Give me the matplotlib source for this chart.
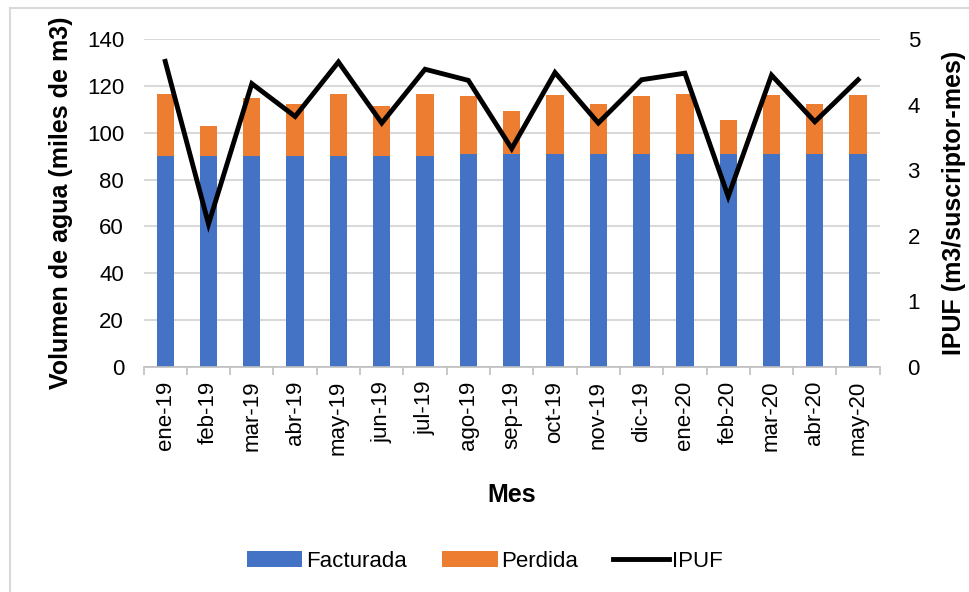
import numpy as np
import matplotlib.pyplot as plt
from matplotlib.lines import Line2D

plt.rcParams['font.family'] = ['Liberation Sans', 'DejaVu Sans']

meses = ['ene-19', 'feb-19', 'mar-19', 'abr-19', 'may-19', 'jun-19', 'jul-19',
         'ago-19', 'sep-19', 'oct-19', 'nov-19', 'dic-19', 'ene-20', 'feb-20',
         'mar-20', 'abr-20', 'may-20']
facturada = [90.3, 90.3, 90.3, 90.3, 90.3, 90.3, 90.3, 91.0, 91.0, 91.0,
             91.0, 91.0, 91.0, 91.0, 91.0, 91.0, 91.0]
total = [116.7, 102.7, 115.0, 112.1, 116.7, 111.6, 116.7, 115.5, 109.4, 116.1,
         112.3, 115.7, 116.7, 105.6, 116.1, 112.3, 116.1]
perdida = [t - f for t, f in zip(total, facturada)]
ipuf = [4.66, 2.18, 4.32, 3.82, 4.65, 3.72, 4.54, 4.37, 3.33, 4.49,
        3.72, 4.38, 4.48, 2.6, 4.45, 3.74, 4.38]

fig = plt.figure(figsize=(9.7, 5.92), dpi=100)
ax = fig.add_axes([0.148, 0.380, 0.759, 0.554])
x = np.arange(len(meses))

b1 = ax.bar(x, facturada, width=0.4, color='#4472C4', label='Facturada', zorder=2)
b2 = ax.bar(x, perdida, width=0.4, bottom=facturada, color='#ED7D31', label='Perdida', zorder=2)

ax.set_xlim(-0.5, len(meses) - 0.5)
ax.set_ylim(0, 140)
ax.set_yticks(range(0, 141, 20))
ax.yaxis.grid(True, color='#d9d9d9', linewidth=1.5, zorder=0)
ax.set_axisbelow(True)
for s in ['top', 'right', 'left']:
    ax.spines[s].set_visible(False)
ax.spines['bottom'].set_color('#bfbfbf')
ax.spines['bottom'].set_linewidth(1.2)

ax.set_xticks(x)
ax.set_xticklabels(meses, rotation=90, fontsize=16)
ax.set_xticks(np.arange(-0.5, len(meses), 1), minor=True)
ax.tick_params(axis='x', which='major', length=0, pad=10)
ax.tick_params(axis='x', which='minor', length=6, color='#bfbfbf', width=1.2)
ax.tick_params(axis='y', length=0, labelsize=16, pad=14)

ax.set_xlabel('Mes', fontsize=18, fontweight='bold', labelpad=20)
ax.set_ylabel('Volumen de agua (miles de m3)', fontsize=18, fontweight='bold', labelpad=10)

ax2 = ax.twinx()
l1, = ax2.plot(x, ipuf, color='black', linewidth=3.5, label='IPUF',
               solid_joinstyle='miter')
ax2.set_ylim(0, 5)
ax2.set_yticks(range(0, 6))
for s in ax2.spines.values():
    s.set_visible(False)
ax2.tick_params(axis='y', length=0, labelsize=16, pad=20)
ax2.set_ylabel('IPUF (m3/suscriptor-mes)', fontsize=18, fontweight='bold', labelpad=16)

fig.legend([b1, b2, l1], ['Facturada', 'Perdida', 'IPUF'], loc='lower center',
           bbox_to_anchor=(0.5, 0.0), ncol=3, frameon=False, fontsize=16,
           handlelength=2.5, handleheight=0.7, columnspacing=1.6, handletextpad=0.15)

# borde del area del grafico
fig.add_artist(Line2D([10 / 970, 10 / 970], [0, 1 - 8 / 592], color='#d9d9d9', lw=1.5))
fig.add_artist(Line2D([10 / 970, 1], [1 - 8 / 592, 1 - 8 / 592], color='#d9d9d9', lw=1.5))

fig.savefig('out.png', dpi=100)
